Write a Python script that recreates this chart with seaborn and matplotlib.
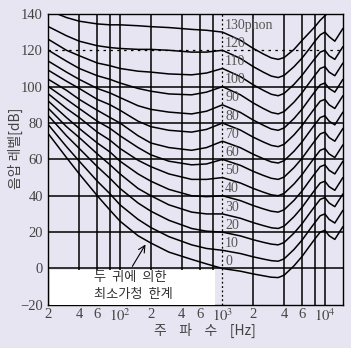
import numpy as np
import matplotlib
matplotlib.use("Agg")
import matplotlib.pyplot as plt
import seaborn as sns
import pandas as pd
from matplotlib.patches import Rectangle
import matplotlib.transforms as mtransforms

# ---- data ----
freqs = [20, 30, 40, 60, 80, 100, 150, 200, 300, 500, 700, 1000, 1500, 2000, 2500,
         3000, 3500, 4000, 5000, 6000, 7000, 8000, 9000, 10000, 11000, 12500, 15000]
phon_levels = [0, 10, 20, 30, 40, 50, 60, 70, 80, 90, 100, 110, 120, 130]
curve_0 = [74, 61, 52, 40, 32, 26, 18, 14, 9, 5, 2.5, 0,
           -1.5, -3, -4, -4.8, -5, -3.7, 1.5, 6.7, 11.9, 16.3, 20, 21, 18, 16, 23]
curve_10 = [79, 67, 59, 48, 41, 35, 27, 22.5, 17.5, 13, 11, 10,
            8.2, 6.4, 5.2, 4.3, 4, 5.3, 10.5, 15.7, 20.9, 25.3, 29, 30, 27, 25, 32]
curve_20 = [84, 73, 66, 56, 49.5, 44, 36, 31.5, 26.5, 22, 20.5, 20,
            17.9, 15.8, 14.4, 13.4, 13, 14.3, 19.5, 24.7, 29.9, 34.3, 38, 39, 36, 34, 41]
curve_30 = [88, 78, 72, 63, 57, 52, 44, 40, 35, 31, 30, 30,
            27.6, 25.2, 23.6, 22.4, 22, 23.3, 28.5, 33.7, 38.9, 43.3, 47, 48, 45, 43, 50]
curve_40 = [92, 83, 77, 69, 64, 59, 52, 48, 43.5, 40, 39.5, 40,
            37.3, 34.6, 32.8, 31.5, 31, 32.3, 37.5, 42.7, 47.9, 52.3, 56, 57, 54, 52, 59]
curve_50 = [96, 88, 83, 75, 70.5, 66, 59.5, 56, 52, 49, 49, 50,
            47, 44, 42, 40.5, 40, 41.3, 46.5, 51.7, 56.9, 61.3, 65, 66, 63, 61, 68]
curve_60 = [100, 93, 88, 81, 77, 73, 66.5, 62.5, 59, 57, 57.5, 60,
            56.7, 53.4, 51.2, 49.6, 49, 50.3, 55.5, 60.7, 65.9, 70.3, 74, 75, 72, 70, 77]
curve_70 = [104, 98, 93, 87, 83, 80, 73, 69, 66.5, 65, 66.5, 70,
            66.4, 62.8, 60.4, 58.6, 58, 59.3, 64.5, 69.7, 74.9, 79.3, 83, 84, 81, 79, 86]
curve_80 = [109, 103, 99, 93, 90, 87, 81, 78, 76, 75, 76.5, 80,
            76.1, 72.2, 69.6, 67.7, 67, 68.3, 73.5, 78.7, 83.9, 88.3, 92, 93, 90, 88, 95]
curve_90 = [114, 108, 104, 99, 96.5, 94, 89.5, 87.5, 86, 85, 86.5, 90,
            85.8, 81.6, 78.8, 76.7, 76, 77.3, 82.5, 87.7, 92.9, 97.3, 101, 102, 99, 97, 104]
curve_100 = [120, 114, 110, 106, 104, 102, 99, 97.5, 96, 95.5, 97, 100,
             95.5, 91, 88, 85.8, 85, 86.3, 91.5, 96.7, 101.9, 106.3, 110, 111, 108, 106, 113]
curve_110 = [126, 120, 117, 113, 111.5, 110, 108.5, 108, 107, 106.5, 107.5, 110,
             105.5, 101, 98, 95.8, 95, 96.3, 101.3, 106.3, 111.3, 115.5, 119, 120, 117, 115, 122]
curve_120 = [133, 128, 125, 122.5, 121.5, 121, 120.5, 120.5, 120, 119, 119, 120,
             115.5, 111, 108, 105.8, 105, 106.2, 111, 115.8, 120.6, 125, 128.5, 130, 127.5, 125, 132]
curve_130 = [142, 138, 136, 134.5, 134, 134, 133.5, 133, 132.5, 131.5, 131, 130,
             125.5, 121, 118, 115.8, 115, 116, 120.5, 125.5, 129.5, 133, 136.5, 139, 141, 142, 144]
curves = [curve_0, curve_10, curve_20, curve_30, curve_40, curve_50, curve_60,
          curve_70, curve_80, curve_90, curve_100, curve_110, curve_120, curve_130]

tick_freqs = [20, 40, 60, 100, 200, 400, 600, 1000, 2000, 4000, 6000, 10000]
tick_labels = ['2', '4', '6', r'$10^2$', '2', '4', '6', r'$10^3$', '2', '4', '6', r'$10^4$']
grid_freqs = [40, 60, 80, 100, 200, 400, 600, 800, 2000, 4000, 6000, 8000, 10000]
y_ticks = [-20, 0, 20, 40, 60, 80, 100, 120, 140]
grid_levels = [0, 20, 40, 60, 80, 100]

BG = '#E7E5F1'

sns.set_theme(style="white")
plt.rcParams['font.family'] = ['Liberation Serif', 'Noto Sans CJK KR', 'DejaVu Sans']
plt.rcParams['mathtext.fontset'] = 'stix'

rows = []
for lvl, vals in zip(phon_levels, curves):
    for f, v in zip(freqs, vals):
        rows.append({'freq': f, 'level': v, 'phon': lvl})
df = pd.DataFrame(rows)

fig = plt.figure(figsize=(3.51, 3.48), dpi=100)
fig.patch.set_facecolor(BG)
ax = fig.add_axes([0.138, 0.124, 0.839, 0.836])
ax.set_facecolor(BG)

for g in grid_freqs:
    ax.axvline(g, color='black', lw=1.1, zorder=1)
for g in grid_levels:
    ax.axhline(g, color='black', lw=1.1, zorder=1)
ax.axhline(120, color='black', lw=0.9, ls=(0, (2, 3.5)), zorder=1)
ax.axvline(1000, color='black', lw=0.9, ls=(0, (1.5, 2)), zorder=1)

sns.lineplot(data=df, x='freq', y='level', units='phon', estimator=None,
             color='black', lw=1.1, ax=ax, legend=False, zorder=2)

ax.set_xscale('log')
ax.set_xlim(20, 15000)
ax.set_ylim(-20, 140)
ax.set_xticks(tick_freqs)
ax.set_xticklabels(tick_labels)
ax.xaxis.set_minor_locator(matplotlib.ticker.NullLocator())
ax.set_yticks(y_ticks)
ax.tick_params(length=0, labelsize=10.5, labelcolor='#444')
ax.tick_params(axis='x', pad=2)
ax.tick_params(axis='y', pad=4)
for s in ax.spines.values():
    s.set_color('black')
    s.set_linewidth(1.0)

ax.set_xlabel('')
ax.set_ylabel('')
fig.text(0.585, 0.05, '주    파    수    [Hz]', ha='center', va='center', fontsize=10,
         color='#444', family=['Noto Sans CJK KR', 'DejaVu Sans'])
fig.text(0.043, 0.575, '음압 레벨[dB]', ha='center', va='center', fontsize=10,
         color='#444', rotation=90, family=['Noto Sans CJK KR', 'DejaVu Sans'])

# phon labels
for lvl in phon_levels:
    txt = f'{lvl}phon' if lvl == 130 else f'{lvl}'
    ax.text(1060, lvl + 3.8, txt, ha='left', va='center', fontsize=10, color='#555')

# white annotation box
trans = mtransforms.blended_transform_factory(ax.transAxes, ax.transData)
ax.add_patch(Rectangle((0.004, -20), 0.562, 19.2, transform=trans, facecolor='white',
                       edgecolor='none', zorder=3, clip_on=False))
ax.text(0.277, 0.093, '두  귀에  의한', transform=ax.transAxes, ha='center', va='center',
        fontsize=9.5, color='#333', family=['Noto Sans CJK KR'], zorder=4)
ax.text(0.287, 0.034, '최소가청  한계', transform=ax.transAxes, ha='center', va='center',
        fontsize=9.5, color='#333', family=['Noto Sans CJK KR'], zorder=4)
ax.annotate('', xy=(183, 14.5), xycoords='data', xytext=(0.280, 0.124),
            textcoords='axes fraction',
            arrowprops=dict(arrowstyle='->', lw=0.8, color='black'), zorder=4)

fig.savefig('out.png', dpi=100, facecolor=BG)
